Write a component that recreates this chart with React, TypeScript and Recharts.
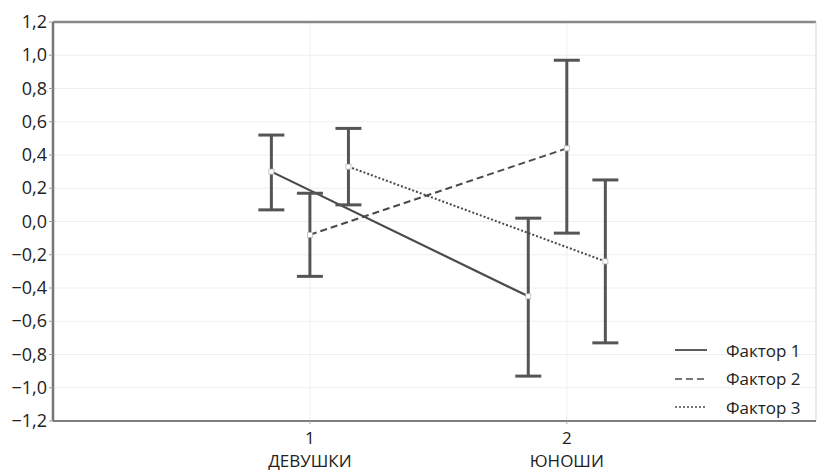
import React from 'react'
import { ComposedChart, Line, ErrorBar, XAxis, YAxis, CartesianGrid, ReferenceLine } from 'recharts'

const categories = ['ДЕВУШКИ', 'ЮНОШИ']
const groupPositions = [1, 2]
const seriesNames = ['Фактор 1', 'Фактор 2', 'Фактор 3']

const factor1Mean = [0.3, -0.45]
const factor1Low = [0.07, -0.93]
const factor1High = [0.52, 0.02]

const factor2Mean = [-0.08, 0.44]
const factor2Low = [-0.33, -0.07]
const factor2High = [0.17, 0.97]

const factor3Mean = [0.33, -0.24]
const factor3Low = [0.1, -0.73]
const factor3High = [0.56, 0.25]

const yTicks = [-1.2, -1.0, -0.8, -0.6, -0.4, -0.2, 0, 0.2, 0.4, 0.6, 0.8, 1.0, 1.2]

// horizontal shift of each factor around its group, in x-axis units
const seriesShift = [-0.15, 0, 0.15]
const dashes = [undefined, '7 4', '2 2']

const FONT = '"Open Sans", Lato, sans-serif'
const INK = '#4a4a4a'

function buildSeries(mean: number[], low: number[], high: number[], shift: number) {
  return mean.map((m, i) => ({
    x: groupPositions[i] + shift,
    y: m,
    err: [m - low[i], high[i] - m],
  }))
}

const series = [
  buildSeries(factor1Mean, factor1Low, factor1High, seriesShift[0]),
  buildSeries(factor2Mean, factor2Low, factor2High, seriesShift[1]),
  buildSeries(factor3Mean, factor3Low, factor3High, seriesShift[2]),
]

const fmt = (v: number) => v.toFixed(1).replace('.', ',').replace('-', '−')

function SquareDot(props: any) {
  const { cx, cy } = props
  if (cx == null || cy == null) return null
  return <rect x={cx - 2.5} y={cy - 2.5} width={5} height={5} fill="#fff" stroke="#bbb" strokeWidth={0.8} />
}

function XTick(props: any) {
  const { x, y, payload } = props
  const idx = groupPositions.indexOf(payload.value)
  return (
    <g fontFamily={FONT} fontSize={17} fill="#222">
      <text x={x} y={y + 18} textAnchor="middle">{payload.value}</text>
      <text x={x} y={y + 41} textAnchor="middle">{categories[idx]}</text>
    </g>
  )
}

function YTick(props: any) {
  const { x, y, payload } = props
  return (
    <text x={x} y={y} dy={6} textAnchor="end" fontFamily={FONT} fontSize={18} fill="#222">
      {fmt(payload.value)}
    </text>
  )
}

function LegendBox() {
  return (
    <div style={{ position: 'absolute', left: 674, top: 336, fontFamily: FONT, fontSize: 17, color: '#222' }}>
      {seriesNames.map((name, i) => (
        <div key={name} style={{ display: 'flex', alignItems: 'center', height: 28.5 }}>
          <svg width={34} height={10} style={{ marginRight: 18 }}>
            <line x1={1} y1={5} x2={33} y2={5} stroke={INK} strokeWidth={i === 0 ? 1.8 : 1.4} strokeDasharray={dashes[i]} />
          </svg>
          <span>{name}</span>
        </div>
      ))}
    </div>
  )
}

export default function App() {
  return (
    <div style={{ position: 'absolute', left: 0, top: 0, width: 818, height: 473, background: '#fff' }}>
      <ComposedChart width={818} height={473} margin={{ top: 22, right: 2, bottom: 0, left: 0 }}>
        <CartesianGrid stroke="#efefef" strokeWidth={1} />
        <XAxis
          type="number"
          dataKey="x"
          domain={[0, 2.97]}
          ticks={groupPositions}
          allowDataOverflow
          height={52}
          axisLine={{ stroke: '#555', strokeWidth: 1.5 }}
          tickLine={{ stroke: '#aaa' }}
          tickSize={3}
          tick={<XTick />}
        />
        <YAxis
          type="number"
          domain={[-1.2, 1.2]}
          ticks={yTicks}
          width={53}
          allowDataOverflow
          axisLine={{ stroke: '#777', strokeWidth: 2.5 }}
          tickLine={{ stroke: '#999' }}
          tickSize={4}
          tick={<YTick />}
          interval={0}
        />
        <ReferenceLine y={1.2} stroke="#888" strokeWidth={2.5} />
        <ReferenceLine x={2.97} stroke="#ddd" strokeWidth={1} />
        {series.map((data, i) => (
          <Line
            key={seriesNames[i]}
            data={data}
            dataKey="y"
            name={seriesNames[i]}
            type="linear"
            stroke={INK}
            strokeWidth={i === 0 ? 2.2 : 2}
            strokeDasharray={dashes[i]}
            dot={<SquareDot />}
            activeDot={false}
            isAnimationActive={false}
          >
            <ErrorBar dataKey="err" direction="y" width={13} stroke="#555" strokeWidth={3} isAnimationActive={false} />
          </Line>
        ))}
      </ComposedChart>
      <LegendBox />
    </div>
  )
}
